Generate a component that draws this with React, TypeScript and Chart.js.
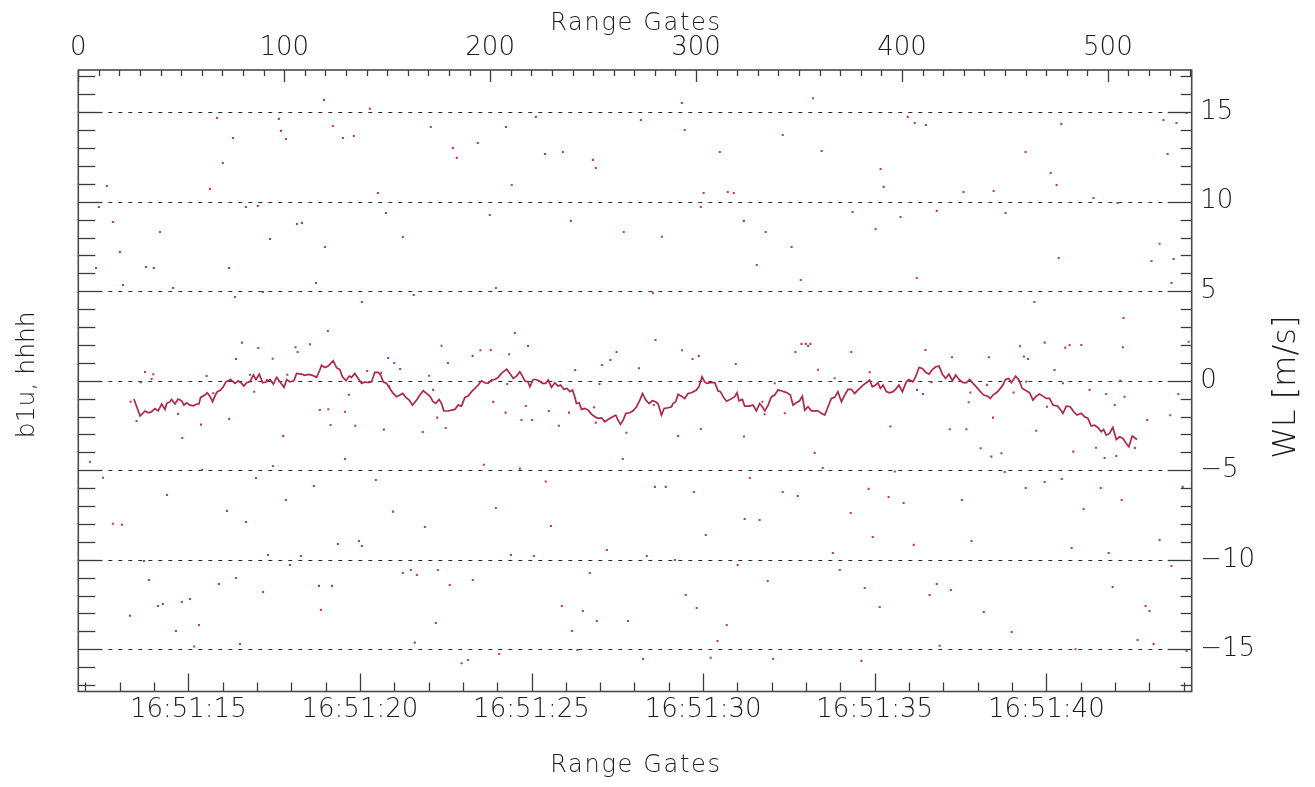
import React, { useEffect, useRef } from "react";
import { Chart, registerables } from "chart.js";

Chart.register(...registerables);

const FONT = '"DejaVu Sans", sans-serif';
const WEIGHT = "200";
const LINE_COLOR = "#b0264b";
const DOT_COLOR = "#c2385a";
const AXIS_COLOR = "#3c3c3c";
const TEXT_COLOR = "#1c1c1c";

const gateRange = [0, 540.7];
const timeRange = [11.795, 44.236];
const wlRange = [-17.36, 17.36];
const gridValues = [-15, -10, -5, 0, 5, 10, 15];

const lineGates = [
  27.0, 30.0, 32.4, 34.0, 35.6, 37.2, 38.8, 40.5, 42.1, 42.9, 44.5, 45.3, 46.9, 48.5, 50.2, 51.3, 52.6, 54.2, 55.8, 57.5,
  58.6, 59.4, 61.5, 62.6, 63.9, 65.2, 67.2, 69.1, 70.4, 71.7, 74.0, 76.1, 77.7, 79.3, 80.4, 81.7, 83.3, 85.0, 86.3, 87.9,
  89.5, 91.5, 93.1, 94.7, 96.3, 97.9, 99.9, 101.2, 102.8, 104.7, 106.0, 108.4, 110.1, 111.7, 113.8, 115.7, 117.3, 118.1, 119.8, 121.4,
  123.8, 125.4, 127.0, 128.3, 130.0, 131.6, 132.7, 134.3, 135.9, 137.6, 139.2, 140.8, 142.4, 144.0, 145.6, 146.8, 148.1, 149.7, 151.3, 152.9,
  154.6, 156.2, 157.5, 159.1, 160.7, 162.3, 164.3, 165.9, 167.5, 169.1, 170.7, 172.3, 173.6, 175.2, 176.4, 177.5, 179.6, 181.3, 182.9, 184.5,
  186.1, 187.7, 189.3, 191.0, 192.6, 194.2, 195.8, 197.4, 199.0, 200.7, 202.3, 203.9, 205.5, 208.0, 209.6, 211.2, 212.8, 214.4, 215.7, 216.8,
  218.4, 219.3, 220.9, 222.2, 223.8, 225.4, 227.0, 228.2, 229.8, 231.4, 233.0, 234.2, 235.8, 237.4, 238.7, 240.0, 241.1, 241.9, 243.2, 244.4,
  246.0, 247.6, 249.2, 250.8, 252.4, 254.1, 255.7, 257.3, 258.9, 261.0, 262.1, 263.3, 264.6, 265.9, 267.8, 269.4, 271.1, 272.7, 274.0, 275.6,
  277.2, 278.8, 280.4, 281.6, 283.2, 284.5, 286.4, 288.1, 288.8, 290.1, 291.3, 292.9, 294.5, 296.1, 297.8, 300.2, 301.5, 302.9, 304.2, 305.3,
  307.0, 309.1, 310.7, 311.8, 313.4, 314.8, 316.7, 318.8, 319.9, 320.9, 322.5, 323.6, 325.7, 327.7, 329.3, 330.9, 332.2, 333.4, 335.0, 336.6,
  338.2, 339.8, 341.5, 342.6, 344.2, 345.8, 347.1, 348.7, 350.3, 351.6, 352.8, 354.4, 356.0, 357.6, 359.2, 360.9, 362.5, 364.1, 365.7, 367.3,
  368.9, 370.6, 372.2, 373.8, 375.4, 377.0, 378.6, 381.1, 382.7, 384.3, 385.6, 387.2, 388.3, 389.5, 390.8, 392.4, 394.0, 395.6, 396.9, 398.5,
  400.2, 402.1, 403.4, 405.3, 406.6, 408.3, 409.9, 411.5, 413.1, 414.8, 416.4, 418.0, 419.6, 421.2, 422.8, 424.5, 426.1, 427.7, 429.6, 431.3,
  432.9, 434.5, 436.1, 437.7, 439.7, 441.7, 442.9, 444.2, 445.8, 447.4, 449.0, 450.3, 451.9, 453.1, 455.2, 456.8, 458.4, 460.4, 462.0, 463.6,
  465.2, 466.8, 468.4, 470.1, 471.7, 473.3, 475.7, 478.2, 479.8, 481.7, 483.4, 485.0, 487.1, 488.7, 490.3, 491.9, 493.5, 495.1, 496.8, 497.9,
  499.2, 500.8, 502.4, 504.1, 505.7, 507.3, 508.9, 510.2, 511.8, 512.9, 514.1,
];

const lineValues = [
  -1.02, -1.97, -1.69, -1.79, -1.73, -1.55, -1.68, -1.30, -1.60, -1.27, -1.17, -1.04, -1.30, -1.02, -1.12, -1.36, -1.23, -1.36, -1.40, -1.30,
  -1.30, -0.93, -0.80, -0.67, -0.86, -1.17, -0.65, -0.52, -0.34, -0.06, 0.07, -0.15, 0.0, -0.15, -0.30, -0.11, -0.06, 0.32, 0.07, 0.37,
  -0.11, -0.06, 0.07, -0.19, 0.19, -0.06, -0.37, 0.07, -0.06, 0.0, 0.41, 0.37, 0.30, 0.35, 0.30, 0.19, 0.60, 0.86, 0.74, 0.82,
  1.12, 0.73, 0.63, 0.22, 0.0, 0.26, 0.19, 0.41, 0.13, -0.15, -0.07, -0.11, -0.06, 0.47, 0.47, 0.32, -0.06, -0.15, -0.43, -0.71,
  -0.89, -0.80, -0.71, -0.93, -1.08, -1.36, -1.08, -0.80, -0.56, -0.71, -0.86, -1.17, -1.27, -1.04, -1.27, -1.68, -1.69, -1.64, -1.60, -1.36,
  -1.42, -0.93, -0.86, -0.61, -0.43, -0.24, 0.0, -0.11, -0.15, 0.04, 0.07, 0.19, 0.41, 0.65, 0.41, 0.13, 0.26, 0.50, 0.26, 0.0,
  -0.06, -0.34, 0.07, 0.07, 0.0, -0.15, -0.15, 0.04, -0.37, -0.11, -0.30, -0.24, -0.48, -0.43, -0.61, -0.52, -0.89, -1.27, -1.23, -1.60,
  -1.55, -1.64, -1.86, -2.01, -2.10, -2.07, -2.29, -2.16, -2.05, -1.92, -2.20, -2.44, -2.20, -1.82, -1.79, -1.68, -1.45, -1.08, -0.71, -1.08,
  -1.27, -1.12, -1.17, -1.30, -1.92, -1.55, -1.51, -1.45, -1.27, -1.17, -0.76, -0.86, -0.99, -0.71, -0.67, -0.52, -0.30, 0.22, -0.06, -0.15,
  -0.11, -0.11, -0.58, -0.61, -0.93, -1.14, -1.04, -0.89, -0.67, -1.12, -1.04, -1.42, -1.42, -1.36, -1.68, -1.27, -1.45, -1.68, -1.36, -0.89,
  -0.80, -0.52, -0.56, -0.61, -0.67, -0.80, -1.36, -1.23, -1.12, -0.86, -1.64, -1.45, -1.68, -1.68, -1.68, -1.82, -1.92, -1.45, -0.99, -0.93,
  -0.61, -1.17, -0.80, -0.48, -0.48, -0.71, -0.52, -0.24, -0.11, 0.04, -0.34, -0.24, -0.11, -0.43, -0.24, -0.61, -0.67, -0.61, -0.48, -0.24,
  -0.61, -0.06, 0.07, -0.06, 0.22, 0.74, 0.69, 0.47, 0.37, 0.63, 0.78, 0.82, 0.37, 0.13, 0.37, 0.0, 0.32, 0.07, -0.11, -0.11,
  0.07, -0.15, -0.34, -0.56, -0.80, -0.86, -0.99, -0.80, -0.67, -0.48, -0.24, 0.07, 0.13, -0.11, 0.26, 0.04, -0.43, -0.56, -0.67, -1.08,
  -0.86, -0.74, -0.86, -0.99, -0.99, -1.36, -1.42, -1.82, -1.42, -1.45, -1.73, -1.92, -1.82, -2.01, -2.10, -2.53, -2.48, -2.61, -2.85, -2.72,
  -3.04, -2.94, -2.61, -3.28, -3.13, -3.22, -3.50, -3.69, -3.09, -3.17, -3.28,
];

// scattered single-gate estimates: upper part
const dotGatesHigh = [
  119.3, 141.6, 67.3, 97.4, 123.6, 171.2, 477.4, 527.0, 533.3, 538.2, 529.0, 472.2, 475.1, 525.1, 476.1, 531.9, 356.8,
  13.9, 10.0, 16.8, 20.2, 8.6, 32.9, 36.7, 39.7, 21.7, 46.0, 63.9, 70.2, 75.1, 73.2, 76.1, 81.4, 87.2, 89.7, 93.1,
  98.4, 100.8, 106.2, 108.6, 115.4, 119.8, 121.2, 128.5, 133.8, 137.7, 145.5, 149.4, 157.6, 162.9, 181.9, 183.8, 194.0, 199.8,
  202.8, 207.7, 210.5, 212.0, 222.2, 226.6, 235.3, 239.2, 249.9, 251.3, 264.9, 273.2, 279.0, 283.4, 293.1, 294.5, 302.3, 303.7,
  311.5, 315.4, 318.3, 323.2, 329.5, 333.8, 342.1, 346.4, 350.8, 361.0, 376.0, 387.2, 389.6, 391.1, 399.3, 402.8, 406.2, 407.2,
  416.9, 411.6, 429.9, 444.5, 450.3, 460.0, 464.3, 493.0, 504.7, 507.6, 521.2, 530.9,
];
const dotValuesHigh = [
  15.69, 15.2, 14.68, 14.63, 14.23, 14.18, 14.35, 14.57, 14.4, 14.96, 12.67, 11.61, 10.94, 7.65, 6.86, 6.8, 15.78,
  10.88, 9.71, 8.87, 7.2, 6.3, 6.36, 6.3, 8.31, 5.35, 5.18, 10.72, 12.17, 13.56, 6.3, 4.68, 9.71, 9.76, 4.96, 7.92,
  13.96, 13.51, 8.76, 8.82, 5.46, 7.47, 2.78, 13.56, 13.67, 4.4, 10.49, 9.37, 8.03, 4.79, 13.01, 12.45, 13.28, 9.26,
  5.18, 14.18, 10.94, 2.67, 14.74, 12.67, 12.78, 8.93, 12.34, 11.89, 8.31, 14.57, 4.91, 8.04, 15.52, 14.01, 9.71, 10.49,
  12.78, 10.55, 10.49, 8.93, 6.47, 8.31, 13.73, 7.47, 5.63, 12.84, 9.43, 8.48, 11.83, 10.83, 9.15, 14.74, 14.4, 5.74,
  9.49, 14.29, 10.55, 10.6, 9.37, 12.78, 4.4, 10.21, 9.93, 3.51, 6.69, 5.46,
];

// scattered single-gate estimates: around the mean line
const dotGatesMid = [
  25.4, 28.3, 30.3, 32.4, 35.6, 36.4, 50.5, 48.5, 59.6, 62.3, 65.5, 73.3, 76.6, 79.5, 83.4, 85.4, 87.4, 91.5, 94.4,
  99.5, 101.5, 105.5, 106.5, 112.5, 117.3, 121.4, 122.5, 129.5, 131.4, 134.5, 140.3, 147.1, 148.4, 150.5, 153.4, 156.3, 151.0,
  167.3, 170.4, 172.3, 174.3, 176.4, 178.4, 179.5, 191.5, 195.3, 200.3, 201.5, 207.5, 208.3, 209.2,
  218.4, 217.3, 215.2, 220.4, 228.5, 233.4, 238.3, 241.3, 250.5, 251.3, 253.1, 254.4, 258.4, 261.4, 266.2, 272.3, 279.5, 280.3,
  291.3, 293.2, 298.3, 301.3, 302.3, 319.3, 323.3, 332.2, 333.3, 338.2, 343.1, 348.3, 351.2, 353.3, 354.4, 355.5, 359.2, 367.3,
  375.4, 384.3, 394.4,
  411.4, 407.3, 410.2, 414.3, 423.2, 424.3, 431.3, 432.4, 433.2, 438.2, 441.3, 442.2, 443.4, 444.2, 448.3, 454.2, 457.3, 459.2,
  461.2, 460.4, 465.2, 469.3, 470.4, 474.1, 478.2, 479.3, 481.4, 483.2, 487.1, 491.1, 494.2, 498.4, 499.2, 503.3, 504.1, 506.0,
  507.3, 508.1, 513.1, 519.1, 530.3, 534.2, 539.2,
];
const dotValuesMid = [
  -1.17, -2.25, -0.08, 0.49, 0.1, 0.36, -3.2, -1.85, -2.45, 0.27, -0.7, -2.13, 1.22, 2.13, 0.34, -0.61, 1.83, 0.04, 1.23,
  -3.08, 0.34, 1.87, 1.61, 2.04, -1.63, -1.59, -2.47, -1.73, -0.78, -2.51, 0.55, 0.45, -2.73, 1.27, 0.99, 0.66, -0.31,
  -2.86, 0.28, -0.51, -2.06, 1.96, -2.64, 0.99, 1.39, 1.7, 1.72, -1.18, -1.78, -0.18, 1.48,
  1.94, -1.41, -2.19, -2.19, -1.69, -2.51, -1.78, 0.6, -1.48, -2.34, -0.18, 0.88, 1.16, 1.61, -2.9, 0.7, -1.35, 2.28,
  -3.08, 1.7, 1.22, 1.39, -2.69, 0.94, -3.12, -1.17, -1.87, -0.14, -1.82, 1.61, 2.06, 2.06, 1.94, 2.06, 0.62, 0.14,
  1.61, 0.47, -2.56,
  1.72, -0.51, -0.74, -0.08, -2.71, 1.31, -2.71, -1.2, -0.66, -3.77, -0.23, 1.31, -4.24, -2.06, -4.05, -0.66, 1.93, 1.35,
  1.22, -0.05, -2.79, 2.13, -1.45, 0.6, -0.14, 1.85, 2.0, -3.96, 2.0, -0.51, -3.74, -4.31, -0.74, -1.36, -4.2, 0.01,
  1.87, -0.89, -3.75, -2.19, -1.93, -0.74, 2.18,
];

// scattered single-gate estimates: lower part
const dotGatesLow = [
  186.1, 189.3, 204.4, 242.4, 274.3, 307.1, 310.4, 337.4, 380.3, 418.3, 484.3, 522.2, 538.2, 56.3, 78.5, 163.4,
  5.7, 12.0, 16.8, 21.2, 25.1, 31.9, 34.3, 38.7, 41.1, 43.1, 47.4, 50.3, 54.2, 58.6, 60.1, 68.3, 72.2, 76.6, 81.4, 86.3,
  89.7, 92.1, 94.5, 100.8, 102.8, 108.1, 114.4, 116.9, 117.8, 123.2, 126.1, 129.5, 136.3, 137.7, 144.5, 152.8, 157.6, 161.5,
  164.4, 168.3, 174.6, 173.6, 180.4, 191.6, 196.9, 202.8, 210.1, 214.4, 221.2, 227.0, 229.5, 234.8, 239.7, 245.0, 248.4, 251.8,
  256.7, 264.4, 266.9, 276.1, 280.0, 285.3, 289.7, 295.0, 298.9, 300.3, 304.7, 314.9, 320.2, 323.6, 326.1, 330.9, 334.8, 342.1,
  349.4, 357.6, 361.5, 366.4, 369.8, 375.1, 381.9, 383.8, 385.8, 389.2, 393.5, 396.5, 400.8, 405.7, 413.4, 416.9, 423.7, 429.1,
  433.8, 439.7, 449.9, 453.3, 460.1, 469.3, 477.6, 482.4, 488.2, 496.5, 500.4, 502.3, 506.7, 514.4, 518.3, 520.2, 525.1, 530.9, 536.3,
];
const dotValuesLow = [
  -15.78, -15.6, -15.26, -15.04, -15.54, -15.47, -14.54, -15.53, -15.65, -14.8, -15.0, -14.7, -15.09, -14.85, -14.7, -14.63,
  -4.53, -5.42, -7.99, -8.05, -13.13, -10.07, -11.13, -12.58, -12.47, -6.38, -13.98, -12.36, -12.19, -13.64, -4.98, -11.35, -7.27, -11.02, -7.89, -5.43,
  -11.8, -9.73, -4.76, -6.66, -10.29, -9.79, -5.88, -11.46, -12.8, -11.46, -9.12, -4.37, -8.95, -9.23, -5.54, -7.31, -10.74, -10.57,
  -10.85, -8.17, -10.57, -13.53, -11.41, -11.13, -4.69, -7.11, -9.73, -4.91, -9.79, -5.63, -8.11, -12.58, -13.98, -12.86, -10.74, -13.42,
  -9.45, -4.37, -13.42, -9.79, -5.93, -5.93, -10.01, -11.97, -6.21, -12.69, -8.62, -13.64, -10.29, -7.72, -5.43, -7.78, -11.19, -6.21,
  -6.44, -4.03, -4.87, -9.62, -10.57, -7.39, -11.58, -6.04, -8.73, -12.64, -6.49, -5.07, -6.83, -9.17, -11.97, -11.35, -11.69, -6.66,
  -8.95, -12.92, -5.1, -14.04, -5.99, -5.66, -5.49, -9.34, -7.16, -5.99, -9.62, -11.52, -6.66, -14.48, -12.58, -12.86, -8.89, -10.35, -5.93,
];

const timeLabel = (s: number) => `16:51:${String(s).padStart(2, "0")}`;
const wlLabel = (v: number) => (v < 0 ? `\u2212${Math.abs(v)}` : `${v}`);

type TickSpec = { minor: number; major: number; minorLen: number; majorLen: number };
const tickSpecs: Record<string, TickSpec> = {
  x: { minor: 1, major: 5, minorLen: 9, majorLen: 18 },
  x2: { minor: 10, major: 100, minorLen: 6, majorLen: 12 },
  y: { minor: 1, major: 5, minorLen: 17, majorLen: 24 },
  y2: { minor: 1, major: 5, minorLen: 11, majorLen: 24 },
};

const idlPlugin = {
  id: "idlAxes",
  beforeDatasetsDraw(chart: any) {
    const { ctx, chartArea: a, scales } = chart;
    ctx.save();
    ctx.strokeStyle = "#2a2a2a";
    ctx.lineWidth = 1.2;
    ctx.setLineDash([4, 6]);
    for (const v of gridValues) {
      const py = Math.round(scales.y2.getPixelForValue(v)) + 0.5;
      ctx.beginPath();
      ctx.moveTo(a.left, py);
      ctx.lineTo(a.right, py);
      ctx.stroke();
    }
    ctx.restore();
  },
  afterDatasetsDraw(chart: any) {
    const { ctx, chartArea: a, scales } = chart;
    ctx.save();
    ctx.strokeStyle = AXIS_COLOR;
    ctx.lineWidth = 1.3;
    ctx.setLineDash([]);
    for (const id of Object.keys(tickSpecs)) {
      const s = scales[id];
      const spec = tickSpecs[id];
      const start = Math.ceil(s.min / spec.minor - 1e-9) * spec.minor;
      for (let v = start; v <= s.max + 1e-9; v += spec.minor) {
        const r = v / spec.major;
        const isMajor = Math.abs(r - Math.round(r)) < 1e-6;
        const len = isMajor ? spec.majorLen : spec.minorLen;
        const p = Math.round(s.getPixelForValue(v)) + 0.5;
        ctx.beginPath();
        if (id === "x") {
          ctx.moveTo(p, a.bottom);
          ctx.lineTo(p, a.bottom - len);
        } else if (id === "x2") {
          ctx.moveTo(p, a.top);
          ctx.lineTo(p, a.top + len);
        } else if (id === "y") {
          ctx.moveTo(a.left, p);
          ctx.lineTo(a.left + len, p);
        } else {
          ctx.moveTo(a.right, p);
          ctx.lineTo(a.right - len, p);
        }
        ctx.stroke();
      }
    }
    ctx.strokeStyle = "#4a4a4a";
    ctx.lineWidth = 1.6;
    ctx.strokeRect(a.left, a.top, a.right - a.left, a.bottom - a.top);
    ctx.restore();
  },
  afterDraw(chart: any) {
    const { ctx, chartArea: a } = chart;
    const cx = (a.left + a.right) / 2;
    const cy = (a.top + a.bottom) / 2;
    ctx.save();
    ctx.fillStyle = TEXT_COLOR;
    ctx.textAlign = "center";
    ctx.textBaseline = "alphabetic";
    ctx.font = `${WEIGHT} 24px ${FONT}`;
    (ctx as any).letterSpacing = "1.7px";
    ctx.fillText("Range Gates", cx + 1, 29.5);
    ctx.fillText("Range Gates", cx + 1, 772);
    ctx.font = `${WEIGHT} 25px ${FONT}`;
    (ctx as any).letterSpacing = "0px";
    ctx.save();
    ctx.translate(33.5, cy - 6);
    ctx.rotate(-Math.PI / 2);
    ctx.fillText("b1u, hhhh", 0, 0);
    ctx.restore();
    ctx.font = `${WEIGHT} 32px ${FONT}`;
    ctx.save();
    ctx.translate(1295, cy + 6.5);
    ctx.rotate(-Math.PI / 2);
    ctx.fillText("WL [m/s]", 0, 0);
    ctx.restore();
    ctx.restore();
  },
};

export default function App() {
  const canvasRef = useRef<HTMLCanvasElement | null>(null);

  useEffect(() => {
    if (!canvasRef.current) return;
    const tickFont = { family: FONT, size: 26, weight: WEIGHT as any };
    const linePoints = lineGates.map((g, i) => ({ x: g, y: lineValues[i] }));
    const toPts = (gs: number[], vs: number[]) => gs.map((g, i) => ({ x: g, y: vs[i] }));
    const dotPoints = [
      ...toPts(dotGatesHigh, dotValuesHigh),
      ...toPts(dotGatesMid, dotValuesMid),
      ...toPts(dotGatesLow, dotValuesLow),
    ];

    const chart = new Chart(canvasRef.current, {
      type: "scatter",
      data: {
        datasets: [
          {
            type: "scatter",
            data: dotPoints,
            xAxisID: "x2",
            yAxisID: "y2",
            pointStyle: "rect",
            pointRadius: 1.45,
            borderWidth: 0,
            backgroundColor: DOT_COLOR,
          } as any,
          {
            type: "line",
            data: linePoints,
            xAxisID: "x2",
            yAxisID: "y2",
            borderColor: LINE_COLOR,
            borderWidth: 1.7,
            pointRadius: 0,
            tension: 0,
            fill: false,
          } as any,
        ],
      },
      options: {
        animation: false,
        responsive: false,
        maintainAspectRatio: false,
        events: [],
        layout: { padding: 0 },
        plugins: { legend: { display: false }, tooltip: { enabled: false } },
        scales: {
          x: {
            type: "linear",
            position: "bottom",
            min: timeRange[0],
            max: timeRange[1],
            grid: { display: false, drawTicks: false },
            border: { display: false },
            ticks: {
              stepSize: 5,
              includeBounds: false,
              autoSkip: false,
              maxRotation: 0,
              padding: 3,
              color: TEXT_COLOR,
              font: tickFont,
              callback: (v: any) => timeLabel(Number(v)),
            },
            afterFit: (s: any) => {
              s.height = 95.5;
            },
          },
          x2: {
            type: "linear",
            position: "top",
            min: gateRange[0],
            max: gateRange[1],
            grid: { display: false, drawTicks: false },
            border: { display: false },
            ticks: {
              stepSize: 100,
              includeBounds: false,
              autoSkip: false,
              maxRotation: 0,
              padding: 6,
              color: TEXT_COLOR,
              font: tickFont,
            },
            afterFit: (s: any) => {
              s.height = 70;
            },
          },
          y: {
            type: "linear",
            position: "left",
            min: wlRange[0],
            max: wlRange[1],
            grid: { display: false, drawTicks: false },
            border: { display: false },
            ticks: { display: false },
            afterFit: (s: any) => {
              s.width = 78.3;
            },
          },
          y2: {
            type: "linear",
            position: "right",
            min: wlRange[0],
            max: wlRange[1],
            grid: { display: false, drawTicks: false },
            border: { display: false },
            ticks: {
              stepSize: 5,
              includeBounds: false,
              autoSkip: false,
              padding: 8.5,
              color: TEXT_COLOR,
              font: tickFont,
              callback: (v: any) => wlLabel(Number(v)),
            },
            afterFit: (s: any) => {
              s.width = 123.3;
            },
          },
        },
      },
      plugins: [idlPlugin],
    });
    return () => chart.destroy();
  }, []);

  return (
    <div style={{ position: "fixed", left: 0, top: 0, width: 1315, height: 787, background: "#fff" }}>
      <canvas ref={canvasRef} width={1315} height={787} style={{ display: "block", width: 1315, height: 787 }} />
    </div>
  );
}
